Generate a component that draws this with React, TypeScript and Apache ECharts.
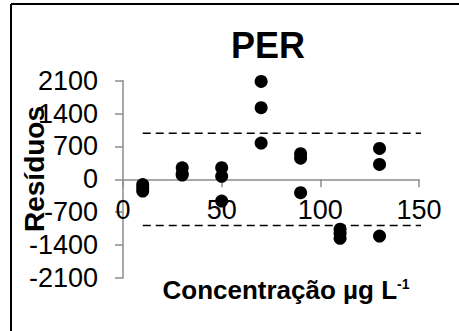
import React, { useEffect, useRef } from "react";
import * as echarts from "echarts";

// Residuals of the PER calibration, grouped by concentration level (µg L-1)
const levels = [10, 30, 50, 70, 90, 110, 130];
const residuals: number[][] = [
  [-110, -180, -250],
  [245, 120, 92],
  [249, 64, -462],
  [2085, 1525, 772],
  [545, 450, -283],
  [-1060, -1150, -1255],
  [657, 318, -1208],
];

// Acceptance limits drawn as dashed lines
const limitX = [10, 157];
const upperLimit = 980;
const lowerLimit = -980;

const xTicks = { min: 0, max: 150, interval: 50 };
const yTicks = { min: -2100, max: 2100, interval: 700 };

const title = "PER";
const yName = "Resíduos";
const xName = "Concentração µg L";
const xNameSup = "-1";

const FONT = "'Liberation Sans', Arial, sans-serif";
const AXIS_GREY = "#8c8c8c";

const GRID_TOP = 80.7;
const GRID_BOTTOM = 53;
const HEIGHT = 331;

export default function App() {
  const ref = useRef<HTMLDivElement>(null);

  useEffect(() => {
    if (!ref.current) return;
    const chart = echarts.init(ref.current, undefined, { renderer: "svg" });

    const points: number[][] = [];
    levels.forEach((x, i) => residuals[i].forEach((r) => points.push([x, r])));

    // the x axis crosses the y axis at zero, halfway up the symmetric range
    const plotH = HEIGHT - GRID_TOP - GRID_BOTTOM;
    const zeroOffset = -plotH * (0 - yTicks.min) / (yTicks.max - yTicks.min);

    chart.setOption({
      animation: false,
      backgroundColor: "#fff",
      textStyle: { fontFamily: FONT },
      grid: {
        left: 123,
        right: 40,
        top: GRID_TOP,
        bottom: GRID_BOTTOM,
        containLabel: false,
        outerBoundsMode: "none",
      },
      xAxis: {
        type: "value",
        position: "bottom",
        offset: zeroOffset,
        min: xTicks.min,
        max: xTicks.max,
        interval: xTicks.interval,
        axisLine: { onZero: false, lineStyle: { color: AXIS_GREY, width: 1.5 } },
        axisTick: { show: true, length: 8, lineStyle: { color: AXIS_GREY, width: 1.5 } },
        axisLabel: { fontSize: 27, color: "#000", margin: 17, fontFamily: FONT, hideOverlap: false },
        splitLine: { show: false },
      },
      yAxis: {
        type: "value",
        min: yTicks.min,
        max: yTicks.max,
        interval: yTicks.interval,
        axisLine: { show: true, onZero: false, lineStyle: { color: AXIS_GREY, width: 1.5 } },
        axisTick: { show: true, length: 8, lineStyle: { color: AXIS_GREY, width: 1.5 } },
        axisLabel: {
          fontSize: 27,
          color: "#000",
          margin: 25,
          fontFamily: FONT,
          formatter: (v: number) => String(v),
        },
        splitLine: { show: false },
      },
      series: [
        {
          name: "upper",
          type: "line",
          data: limitX.map((x) => [x, upperLimit]),
          symbol: "none",
          clip: false,
          lineStyle: { color: "#000", width: 1.5, type: [8, 5] },
          z: 1,
        },
        {
          name: "lower",
          type: "line",
          data: limitX.map((x) => [x, lowerLimit]),
          symbol: "none",
          clip: false,
          lineStyle: { color: "#000", width: 1.5, type: [8, 5] },
          z: 1,
        },
        {
          name: "residuals",
          type: "scatter",
          data: points,
          symbol: "circle",
          symbolSize: 13,
          itemStyle: { color: "#000", opacity: 1 },
          z: 3,
        },
      ],
      graphic: [
        {
          type: "line",
          shape: { x1: 11, y1: 4, x2: 11, y2: 331 },
          style: { stroke: "#000", lineWidth: 2 },
        },
        {
          type: "line",
          shape: { x1: 11, y1: 4, x2: 459, y2: 4 },
          style: { stroke: "#000", lineWidth: 2 },
        },
        {
          type: "text",
          x: 268,
          y: 45,
          style: {
            text: title,
            font: `bold 36px ${FONT}`,
            fill: "#000",
            align: "center",
            verticalAlign: "middle",
          },
        },
        {
          type: "text",
          x: 34,
          y: 169,
          rotation: Math.PI / 2,
          style: {
            text: yName,
            font: `bold 28px ${FONT}`,
            fill: "#000",
            align: "center",
            verticalAlign: "middle",
          },
        },
        {
          type: "text",
          x: 286,
          y: 290,
          style: {
            text: `{a|${xName}}{s|${xNameSup}}`,
            align: "center",
            verticalAlign: "middle",
            rich: {
              a: { font: `bold 26px ${FONT}`, fill: "#000" },
              s: { font: `bold 14px ${FONT}`, fill: "#000", verticalAlign: "top", padding: [0, 0, 10, 0] },
            },
          },
        },
      ],
    });

    return () => chart.dispose();
  }, []);

  return (
    <div
      ref={ref}
      style={{ position: "fixed", left: 0, top: 0, width: 459, height: 331 }}
    />
  );
}
